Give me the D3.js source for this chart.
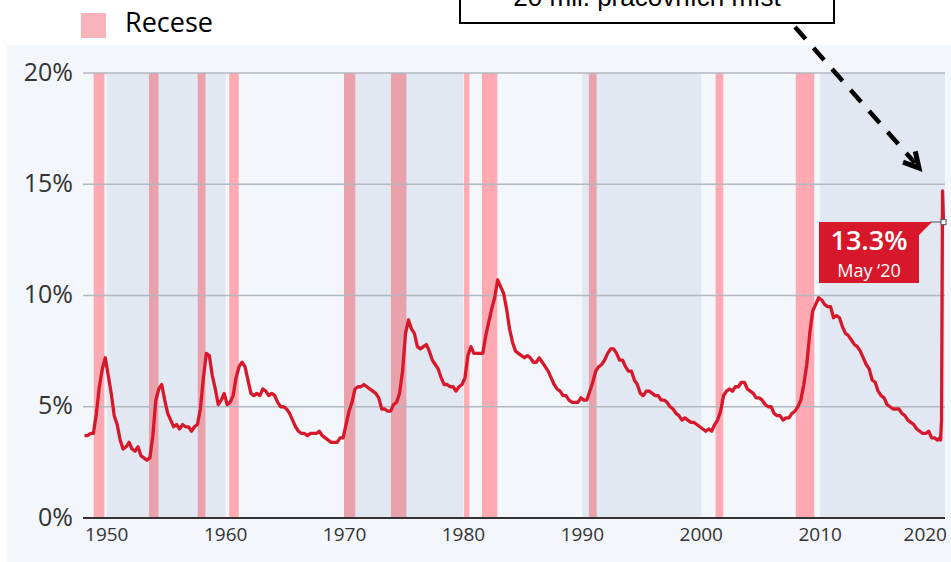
<!DOCTYPE html>
<html>
<title>Nezaměstnanost v USA</title>
<meta charset="UTF-8">

<head>
    <style>
        body { margin: 0; background: #fff; }
        .ylab { font-family: "Open Sans", sans-serif; font-size: 25px; fill: #333; text-anchor: end; dominant-baseline: middle; }
        .xlab { font-family: "Open Sans", sans-serif; font-size: 19px; fill: #333; text-anchor: middle; }
    </style>
</head>

<body>
    <script src="https://d3js.org/d3.v7.min.js"></script>
    <svg id="svg" width=951 height=562></svg>

    <script type="text/javascript">
        // unemployment rate, quarterly averages, starting 1948 Q1
        const firstYear = 1948;
        const quarterly = [
            3.7, 3.7, 3.8, 3.8,   4.7, 5.9, 6.7, 7.2,   6.4, 5.6, 4.6, 4.2,   3.5, 3.1, 3.2, 3.4,   // 1948-51
            3.1, 3.0, 3.2, 2.8,   2.7, 2.6, 2.7, 3.7,   5.3, 5.8, 6.0, 5.3,   4.7, 4.4, 4.1, 4.2,   // 1952-55
            4.0, 4.2, 4.1, 4.1,   3.9, 4.1, 4.2, 4.9,   6.3, 7.4, 7.3, 6.4,   5.8, 5.1, 5.3, 5.6,   // 1956-59
            5.1, 5.2, 5.5, 6.3,   6.8, 7.0, 6.8, 6.2,   5.6, 5.5, 5.6, 5.5,   5.8, 5.7, 5.5, 5.6,   // 1960-63
            5.5, 5.2, 5.0, 5.0,   4.9, 4.7, 4.4, 4.1,   3.9, 3.8, 3.8, 3.7,   3.8, 3.8, 3.8, 3.9,   // 1964-67
            3.7, 3.6, 3.5, 3.4,   3.4, 3.4, 3.6, 3.6,   4.2, 4.8, 5.2, 5.8,   5.9, 5.9, 6.0, 5.9,   // 1968-71
            5.8, 5.7, 5.6, 5.4,   4.9, 4.9, 4.8, 4.8,   5.1, 5.2, 5.6, 6.6,   8.3, 8.9, 8.5, 8.3,   // 1972-75
            7.7, 7.6, 7.7, 7.8,   7.5, 7.1, 6.9, 6.7,   6.3, 6.0, 6.0, 5.9,   5.9, 5.7, 5.9, 6.0,   // 1976-79
            6.3, 7.3, 7.7, 7.4,   7.4, 7.4, 7.4, 8.2,   8.8, 9.4, 9.9, 10.7,  10.4, 10.1, 9.4, 8.5,  // 1980-83
            7.9, 7.5, 7.4, 7.3,   7.2, 7.3, 7.2, 7.0,   7.0, 7.2, 7.0, 6.8,   6.6, 6.3, 6.0, 5.8,   // 1984-87
            5.7, 5.5, 5.5, 5.3,   5.2, 5.2, 5.2, 5.4,   5.3, 5.3, 5.7, 6.1,   6.6, 6.8, 6.9, 7.1,   // 1988-91
            7.4, 7.6, 7.6, 7.4,   7.1, 7.1, 6.8, 6.6,   6.6, 6.2, 6.0, 5.6,   5.5, 5.7, 5.7, 5.6,   // 1992-95
            5.5, 5.5, 5.3, 5.3,   5.2, 5.0, 4.9, 4.7,   4.6, 4.4, 4.5, 4.4,   4.3, 4.3, 4.2, 4.1,   // 1996-99
            4.0, 3.9, 4.0, 3.9,   4.2, 4.4, 4.8, 5.5,   5.7, 5.8, 5.7, 5.9,   5.9, 6.1, 6.1, 5.8,   // 2000-03
            5.7, 5.6, 5.4, 5.4,   5.3, 5.1, 5.0, 5.0,   4.7, 4.6, 4.6, 4.4,   4.5, 4.5, 4.7, 4.8,   // 2004-07
            5.0, 5.3, 6.0, 6.9,   8.3, 9.3, 9.6, 9.9,   9.8, 9.6, 9.5, 9.5,   9.0, 9.1, 9.0, 8.6,   // 2008-11
            8.3, 8.2, 8.0, 7.8,   7.7, 7.5, 7.2, 6.9,   6.7, 6.2, 6.1, 5.7,   5.5, 5.4, 5.1, 5.0,   // 2012-15
            4.9, 4.9, 4.9, 4.7,   4.6, 4.4, 4.3, 4.2,   4.0, 3.9, 3.8, 3.8,   3.9, 3.6, 3.6, 3.5    // 2016-19
        ];
        // 2020 monthly, Jan - May
        const monthly2020 = [3.6, 3.5, 4.4, 14.7, 13.3];

        const recessions = [[1948.9, 1949.8], [1953.55, 1954.35], [1957.65, 1958.3], [1960.3, 1961.1],
            [1969.95, 1970.9], [1973.9, 1975.2], [1980.05, 1980.5], [1981.55, 1982.85],
            [1990.55, 1991.2], [2001.2, 2001.85], [2007.95, 2009.5]];
        const decades = [[1950, 1960], [1970, 1980], [1990, 2000], [2010, 2020.5]];
        const yTicks = [0, 5, 10, 15, 20];
        const xTicks = [1950, 1960, 1970, 1980, 1990, 2000, 2010, 2020];
        const lastLabel = ["13.3%", "May \u201820"];

        var svg = d3.select("svg");

        var series = quarterly.map(function (v, i) { return [firstYear + i / 4 + 0.125, v]; });
        monthly2020.forEach(function (v, i) { series.push([2020 + i / 12 + 1 / 24, v]); });

        var x = d3.scaleLinear().domain([1948, 2020.5]).range([83, 945]),
            y = d3.scaleLinear().domain([0, 20]).range([518, 73]);

        // panel
        svg.append("rect").attr("x", 7).attr("y", 45).attr("width", 944).attr("height", 517).attr("fill", "#f3f6fa");

        // decade shading
        svg.selectAll(".dec").data(decades).enter().append("rect")
            .attr("x", d => x(d[0])).attr("y", y(20))
            .attr("width", d => x(d[1]) - x(d[0])).attr("height", y(0) - y(20))
            .attr("fill", "#e1e8f2");

        // recessions
        function inDecade(r) {
            return decades.some(d => r[0] < d[1] && r[1] > d[0]);
        }
        svg.selectAll(".rec").data(recessions).enter().append("rect")
            .attr("x", d => x(d[0])).attr("y", y(20))
            .attr("width", d => x(d[1]) - x(d[0])).attr("height", y(0) - y(20))
            .attr("fill", d => inDecade(d) ? "#e9a1ab" : "#ffa9b3");

        // grid
        svg.selectAll(".grid").data(yTicks.slice(1)).enter().append("line")
            .attr("x1", 83).attr("x2", 945).attr("y1", d => y(d)).attr("y2", d => y(d))
            .attr("stroke", "#b3b8bf").attr("stroke-width", 1.5);
        svg.append("line").attr("x1", 83).attr("x2", 945).attr("y1", y(0)).attr("y2", y(0))
            .attr("stroke", "#333").attr("stroke-width", 2);

        svg.selectAll(".ylab").data(yTicks).enter().append("text").attr("class", "ylab")
            .attr("x", 73).attr("y", d => y(d) + 1).text(d => d + "%");

        svg.selectAll(".xlab").data(xTicks).enter().append("text").attr("class", "xlab")
            .attr("x", (d, i) => i == xTicks.length - 1 ? 947 : x(d))
            .attr("y", 541)
            .style("text-anchor", (d, i) => i == xTicks.length - 1 ? "end" : "middle")
            .text(d => d);

        // line
        var line = d3.line().x(d => x(d[0])).y(d => y(d[1])).curve(d3.curveLinear);
        svg.append("path").datum(series).attr("d", line)
            .attr("fill", "none").attr("stroke", "#d7182a").attr("stroke-width", 3.3)
            .attr("stroke-linejoin", "round");

        // last value label
        var last = series[series.length - 1],
            ly = y(last[1]);
        svg.append("line").attr("x1", 930).attr("x2", x(last[0])).attr("y1", ly).attr("y2", ly)
            .attr("stroke", "#888").attr("stroke-width", 1.5);
        svg.append("rect").attr("x", x(last[0]) - 2.5).attr("y", ly - 2.5).attr("width", 5).attr("height", 5)
            .attr("fill", "#fff").attr("stroke", "#666").attr("stroke-width", 1.2);
        svg.append("path")
            .attr("d", "M819," + ly + "L932," + ly + "L919," + (ly + 13) + "L919," + (ly + 61) + "L819," + (ly + 61) + "Z")
            .attr("fill", "#d7182a");
        svg.append("text").attr("x", 869).attr("y", ly + 28).attr("text-anchor", "middle")
            .style("font-family", "Open Sans").style("font-size", "27px").style("font-weight", 600)
            .attr("fill", "#fff").text(lastLabel[0]);
        svg.append("text").attr("x", 869).attr("y", ly + 55).attr("text-anchor", "middle")
            .style("font-family", "Open Sans").style("font-size", "18px").attr("fill", "#fff").text(lastLabel[1]);

        // legend
        svg.append("rect").attr("x", 81).attr("y", 13).attr("width", 25).attr("height", 25).attr("fill", "#f8b3bb");
        svg.append("text").attr("x", 125).attr("y", 32).style("font-family", "Open Sans").style("font-size", "27px")
            .attr("fill", "#000").text("Recese");

        // annotation
        svg.append("rect").attr("x", 460).attr("y", -10).attr("width", 374).attr("height", 33)
            .attr("fill", "#fff").attr("stroke", "#000").attr("stroke-width", 2);
        svg.append("text").attr("x", 647).attr("y", 6).attr("text-anchor", "middle")
            .style("font-family", "Liberation Sans").style("font-size", "26px").attr("fill", "#000")
            .text("20 mil. pracovních míst");

        var ax0 = 795, ay0 = 27, ax1 = 919, ay1 = 168;
        svg.append("line").attr("x1", ax0).attr("y1", ay0).attr("x2", ax1 - 4).attr("y2", ay1 - 5)
            .attr("stroke", "#000").attr("stroke-width", 4.5).attr("stroke-dasharray", "16 12");
        var ang = Math.atan2(ay1 - ay0, ax1 - ax0), al = 17;
        svg.append("path")
            .attr("d", "M" + (ax1 - al * Math.cos(ang - 0.5)) + "," + (ay1 - al * Math.sin(ang - 0.5)) +
                "L" + ax1 + "," + ay1 +
                "L" + (ax1 - al * Math.cos(ang + 0.5)) + "," + (ay1 - al * Math.sin(ang + 0.5)))
            .attr("fill", "none").attr("stroke", "#000").attr("stroke-width", 5).attr("stroke-linejoin", "miter");
    </script>
</body>
</html>
